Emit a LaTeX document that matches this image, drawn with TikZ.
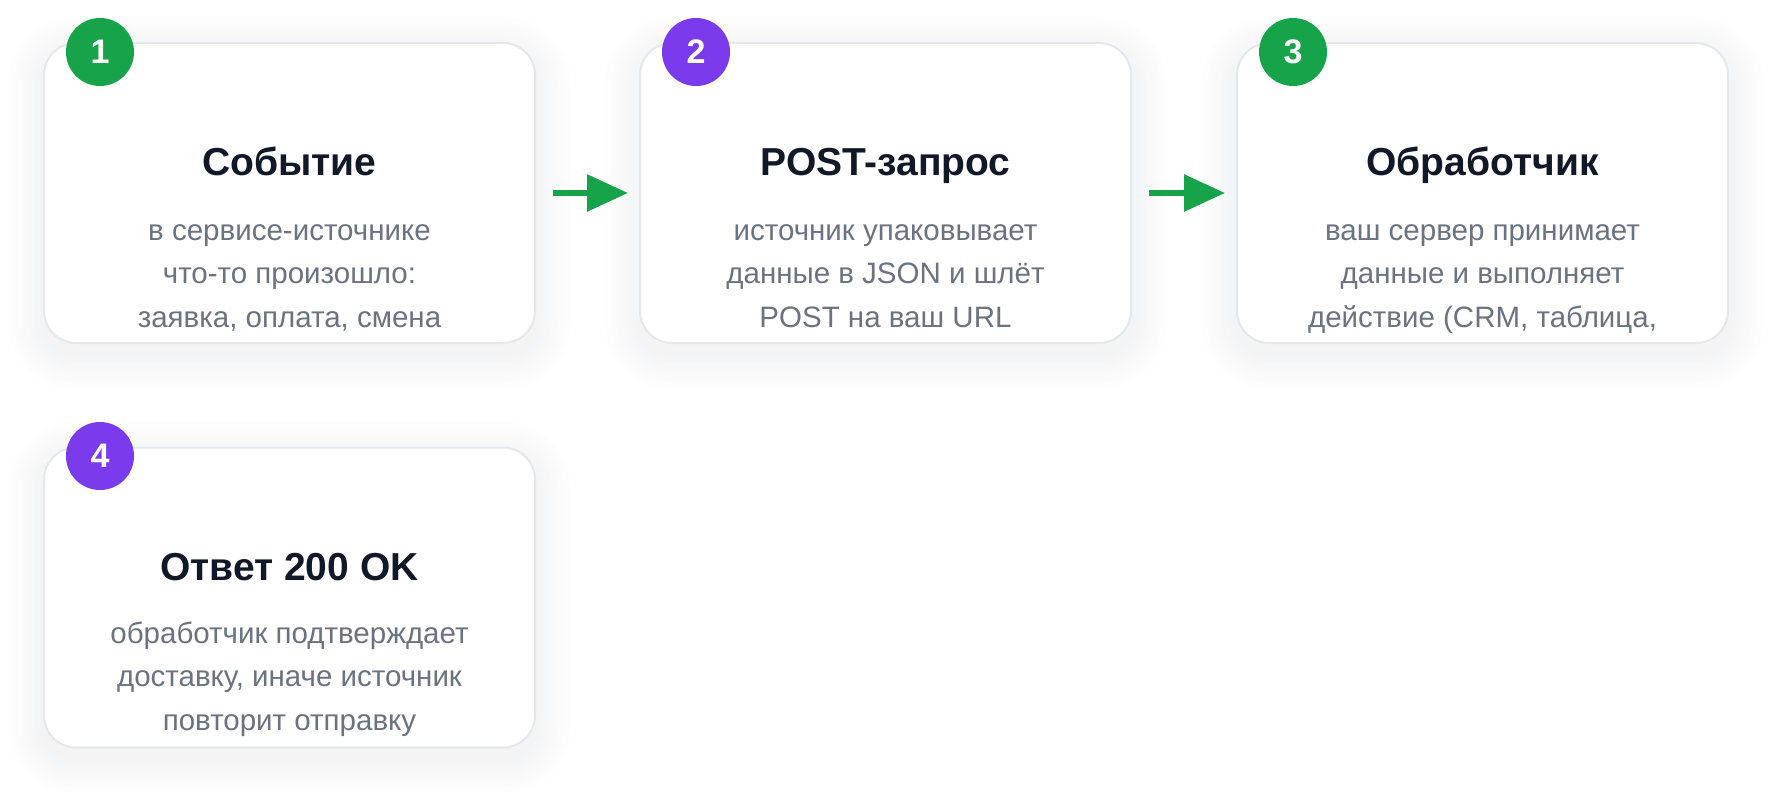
\documentclass[tikz,border=0pt]{standalone}
\usepackage{fontspec}
\setmainfont{Liberation Sans}
\usetikzlibrary{arrows.meta,calc}
\definecolor{cardborder}{HTML}{E5E7EB}
\definecolor{titlec}{HTML}{111827}
\definecolor{bodyc}{HTML}{6B7280}
\definecolor{greenc}{HTML}{16A34A}
\definecolor{purplec}{HTML}{7C3AED}
\definecolor{shadec}{HTML}{55586A}
\pgfdeclarelayer{back}
\pgfdeclarelayer{bg}
\pgfsetlayers{back,bg,main}
\tikzset{
  card/.style={draw=cardborder, line width=2pt, fill=white, rounded corners=32pt,
    minimum width=491pt, minimum height=300pt, inner sep=0pt},
  badge/.style={circle, minimum size=68pt, inner sep=0pt, text=white,
    font=\bfseries\fontsize{34}{34}\selectfont},
  ttl/.style={anchor=base, text=titlec, inner sep=0pt,
    font=\bfseries\fontsize{39}{47}\selectfont},
  bodyt/.style={anchor=base, text=bodyc, inner sep=0pt, align=center,
    font=\fontsize{29.5}{43.5}\selectfont},
  flow/.style={-{Triangle[length=41pt,width=36pt]}, line width=6pt, draw=greenc,
    shorten <=17pt, shorten >=11pt},
}
\newcommand\cardshade[1]{%
  \begin{pgfonlayer}{bg}
  \foreach \i in {16,...,1}{
    \pgfmathsetmacro\shp{(17-\i)*0.42}
    \fill[shadec!\shp!white, rounded corners={32pt+\i*2.2pt}]
      ([xshift={-\i*2.2pt}, yshift={\i*2.2pt-10pt}]#1.north west) rectangle
      ([xshift={\i*2.2pt}, yshift={-\i*2.2pt-10pt}]#1.south east);
  }
  \end{pgfonlayer}}
\begin{document}
\begin{tikzpicture}[x=1pt,y=-1pt]
\useasboundingbox (0,0) rectangle (1772,792);
\begin{pgfonlayer}{back}
\fill[white] (0,0) rectangle (1772,792);
\end{pgfonlayer}

\node[card] (c1) at (289.5,193) {};
\node[card] (c2) at (885.5,193) {};
\node[card] (c3) at (1482.5,193) {};
\node[card] (c4) at (289.5,597.5) {};
\cardshade{c1}\cardshade{c2}\cardshade{c3}\cardshade{c4}

\node[badge, fill=greenc]  (b1) at (100,52) {1};
\node[badge, fill=purplec] (b2) at (696,52) {2};
\node[badge, fill=greenc]  (b3) at (1293,52) {3};
\node[badge, fill=purplec] (b4) at (100,456) {4};

\node[ttl] (t1) at (289.5,175) {Событие};
\node[ttl] (t2) at (885.5,175) {POST-запрос};
\node[ttl] (t3) at (1482.5,175) {Обработчик};
\node[ttl] (t4) at (289.5,580) {Ответ 200 OK};

\node[bodyt] (d1) at (289.5,327) {в сервисе-источнике\\что-то произошло:\\заявка, оплата, смена};
\node[bodyt] (d2) at (885.5,327) {источник упаковывает\\данные в JSON и шлёт\\POST на ваш URL};
\node[bodyt] (d3) at (1482.5,327) {ваш сервер принимает\\данные и выполняет\\действие (CRM, таблица,};
\node[bodyt] (d4) at (289.5,730) {обработчик подтверждает\\доставку, иначе источник\\повторит отправку};

\draw[flow] (c1.east) -- (c2.west);
\draw[flow] (c2.east) -- (c3.west);
\end{tikzpicture}
\end{document}
